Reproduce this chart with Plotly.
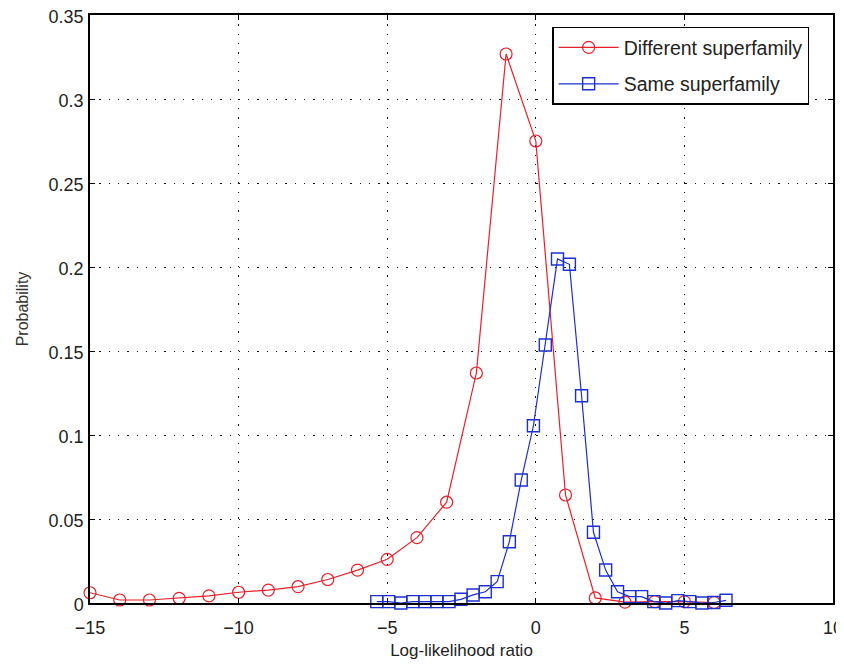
import plotly.graph_objects as go

# Different superfamily (red circles)
x_diff = [-15, -14, -13, -12, -11, -10, -9, -8, -7, -6, -5, -4, -3, -2, -1, 0, 1, 2, 3, 4, 5, 6]
y_diff = [0.0061, 0.0018, 0.0018, 0.0028, 0.0042, 0.0064, 0.0077, 0.0097, 0.0140, 0.0196,
          0.0260, 0.0389, 0.0600, 0.1369, 0.3268, 0.2750, 0.0643, 0.0030, 0.0005, 0.0008,
          0.0008, 0.0003]

# Same superfamily (blue squares)
x_same = [-5.35, -4.95, -4.54, -4.14, -3.73, -3.33, -2.92, -2.52, -2.11, -1.70,
          -1.30, -0.89, -0.49, -0.08, 0.32, 0.73, 1.13, 1.54, 1.94, 2.35,
          2.75, 3.16, 3.56, 3.97, 4.37, 4.78, 5.18, 5.59, 5.99, 6.40]
y_same = [0.0008, 0.0008, 0.0000, 0.0008, 0.0008, 0.0008, 0.0008, 0.0022, 0.0048, 0.0067,
          0.0127, 0.0365, 0.0732, 0.1055, 0.1536, 0.2048, 0.2016, 0.1234, 0.0421, 0.0196,
          0.0067, 0.0038, 0.0038, 0.0008, 0.0000, 0.0014, 0.0008, 0.0000, 0.0003, 0.0016]

x_ticks = [-15, -10, -5, 0, 5, 10]
y_ticks = [0, 0.05, 0.1, 0.15, 0.2, 0.25, 0.3, 0.35]
y_ticktext = ["0", "0.05", "0.1", "0.15", "0.2", "0.25", "0.3", "0.35"]

RED = "#e8202a"
BLUE = "#1c2fd0"
FONT = "Liberation Sans, Arial, sans-serif"

fig = go.Figure()
fig.add_trace(go.Scatter(
    x=x_diff, y=y_diff, mode="lines+markers", name="Different superfamily",
    line=dict(color=RED, width=1.2),
    marker=dict(symbol="circle-open", size=12, color=RED, line=dict(width=1.2, color=RED)),
    cliponaxis=False, legendgroup="a"))
fig.add_trace(go.Scatter(
    x=x_same, y=y_same, mode="lines+markers", name="Same superfamily",
    line=dict(color=BLUE, width=1.2),
    marker=dict(symbol="square-open", size=12, color=BLUE, line=dict(width=1.4, color=BLUE)),
    cliponaxis=False, legendgroup="b"))

axis_common = dict(
    showline=True, linecolor="black", linewidth=1.5, mirror="ticks",
    ticks="inside", ticklen=5, tickcolor="black", tickwidth=1,
    showgrid=True, gridcolor="#111111", gridwidth=1.3, griddash="1.3px,8px",
    zeroline=False, automargin=False, ticklabeloverflow="allow",
    tickfont=dict(family=FONT, size=18, color="#222222"),
)

fig.update_xaxes(range=[-15, 10], tickvals=x_ticks, ticklabelstandoff=8,
                 title=dict(text="Log-likelihood ratio", font=dict(family=FONT, size=17, color="#222222"), standoff=8),
                 **axis_common)
fig.update_yaxes(range=[0, 0.35], tickvals=y_ticks, ticktext=y_ticktext, ticklabelstandoff=1,
                 ticklabelshift=2,
                 title=dict(text="Probability", font=dict(family=FONT, size=16, color="#333333"), standoff=16),
                 **axis_common)

# page body has an 8px margin, so the figure is offset by 8px
fig.update_layout(
    width=836, height=652,
    margin=dict(l=82, r=11, t=7, b=57),
    paper_bgcolor="white", plot_bgcolor="white",
    font=dict(family=FONT, color="#222222"),
    legend=dict(x=0.622, y=0.98, xanchor="left", yanchor="top",
                bgcolor="white", bordercolor="black", borderwidth=1.5,
                font=dict(family=FONT, size=19.5, color="#222222"),
                itemwidth=60, tracegroupgap=8),
    showlegend=True,
)

fig.write_html("out.html")
